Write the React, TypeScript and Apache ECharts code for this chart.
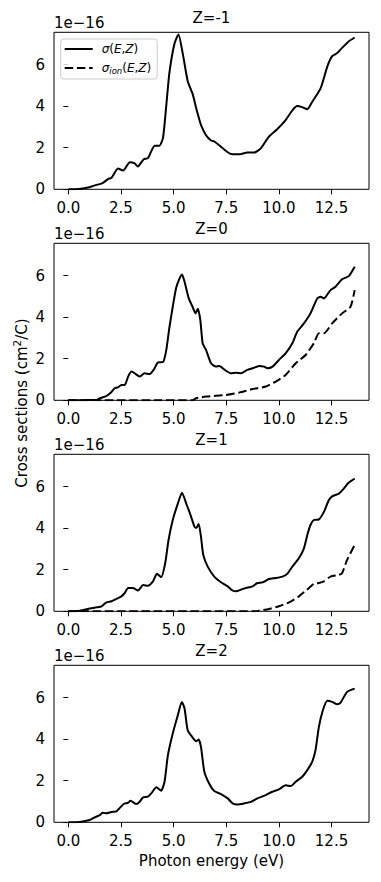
import React, { useEffect, useRef } from 'react';
import * as echarts from 'echarts';

const xTicks = [0, 2.5, 5, 7.5, 10, 12.5];
const yTicks = [0, 2, 4, 6];
const panelTitles = ['Z=-1', 'Z=0', 'Z=1', 'Z=2'];
const offsetText = '1e\u221216';

// Z=-1
const e1 = [0, 0.5, 1.0, 1.3, 1.6, 1.9, 2.05, 2.36, 2.6, 2.92, 3.15, 3.3, 3.58, 3.78, 4.1, 4.33, 4.5, 4.65, 4.8, 5.04, 5.23, 5.44, 5.67, 5.9, 6.1, 6.3, 6.54, 6.78, 6.93, 7.25, 7.57, 7.8, 8.1, 8.5, 8.83, 9.14, 9.5, 9.93, 10.3, 10.64, 10.87, 11.1, 11.35, 11.58, 11.98, 12.3, 12.53, 12.77, 13.0, 13.3, 13.6];
const s1 = [0, 0.02, 0.1, 0.2, 0.28, 0.5, 0.55, 1.0, 0.9, 1.3, 1.25, 1.1, 1.45, 1.5, 2.1, 2.1, 2.5, 4.0, 5.6, 7.0, 7.45, 6.5, 5.2, 4.6, 3.8, 3.1, 2.6, 2.35, 2.3, 2.05, 1.78, 1.68, 1.68, 1.77, 1.77, 1.97, 2.5, 2.9, 3.3, 3.8, 4.0, 3.95, 3.85, 4.2, 4.85, 5.9, 6.4, 6.55, 6.8, 7.1, 7.3];

// Z=0
const e2 = [0, 0.8, 1.34, 1.5, 1.8, 2.05, 2.2, 2.36, 2.52, 2.68, 2.84, 3.0, 3.15, 3.39, 3.62, 3.86, 4.05, 4.26, 4.5, 4.65, 4.8, 4.96, 5.12, 5.28, 5.4, 5.52, 5.72, 5.9, 6.04, 6.15, 6.27, 6.38, 6.54, 6.78, 7.01, 7.17, 7.49, 7.72, 7.96, 8.2, 8.5, 8.75, 9.06, 9.3, 9.46, 9.7, 10.0, 10.32, 10.64, 10.87, 11.19, 11.5, 11.82, 11.98, 12.14, 12.45, 12.69, 13.0, 13.32, 13.6];
const s2 = [0, 0.01, 0.02, 0.1, 0.2, 0.4, 0.58, 0.62, 0.74, 0.74, 1.14, 1.38, 1.3, 1.14, 1.3, 1.26, 1.46, 1.82, 1.84, 2.4, 3.5, 4.5, 5.4, 5.85, 6.05, 5.7, 4.9, 4.5, 4.18, 4.4, 3.85, 2.74, 2.42, 1.78, 1.62, 1.65, 1.42, 1.3, 1.33, 1.3, 1.46, 1.54, 1.65, 1.62, 1.54, 1.62, 1.94, 2.26, 2.74, 3.3, 3.7, 4.18, 4.9, 4.98, 4.9, 5.3, 5.46, 5.82, 5.97, 6.42];
const ei2 = [0, 5.9, 6.07, 6.54, 7.49, 8.12, 8.75, 9.38, 9.85, 10.32, 10.8, 11.27, 11.66, 11.9, 12.14, 12.53, 13.0, 13.4, 13.6];
const si2 = [0, 0, 0.1, 0.18, 0.26, 0.37, 0.54, 0.66, 0.9, 1.22, 1.78, 2.18, 2.74, 3.22, 3.22, 3.7, 4.18, 4.5, 5.3];

// Z=1
const e3 = [0, 0.55, 1.02, 1.34, 1.58, 1.81, 2.05, 2.29, 2.52, 2.68, 2.84, 3.07, 3.31, 3.55, 3.78, 4.02, 4.21, 4.41, 4.6, 4.76, 4.96, 5.2, 5.4, 5.6, 5.78, 5.99, 6.07, 6.19, 6.3, 6.41, 6.62, 6.93, 7.25, 7.57, 7.8, 7.96, 8.2, 8.43, 8.75, 8.98, 9.22, 9.53, 9.85, 10.17, 10.4, 10.64, 10.95, 11.19, 11.35, 11.5, 11.66, 11.9, 12.14, 12.37, 12.53, 12.85, 13.08, 13.32, 13.6];
const s3 = [0, 0.03, 0.13, 0.19, 0.24, 0.43, 0.48, 0.6, 0.72, 0.88, 1.12, 1.12, 1.0, 1.26, 1.23, 1.44, 1.8, 1.64, 2.31, 3.43, 4.39, 5.18, 5.7, 5.18, 4.7, 4.07, 4.0, 4.2, 3.59, 2.71, 2.15, 1.67, 1.4, 1.2, 1.0, 0.96, 1.04, 1.12, 1.2, 1.36, 1.39, 1.55, 1.6, 1.67, 1.8, 2.15, 2.55, 3.03, 3.67, 4.15, 4.39, 4.42, 4.78, 5.34, 5.53, 5.66, 5.9, 6.19, 6.38];
const ei3 = [0, 8.9, 9.06, 9.53, 10.0, 10.48, 10.95, 11.43, 11.66, 11.9, 12.14, 12.45, 12.85, 13.0, 13.24, 13.6];
const si3 = [0, 0, 0.03, 0.11, 0.24, 0.43, 0.72, 1.12, 1.32, 1.36, 1.44, 1.67, 1.75, 1.83, 2.47, 3.19];

// Z=2
const e4 = [0, 0.55, 1.02, 1.26, 1.5, 1.62, 1.81, 2.05, 2.29, 2.47, 2.63, 2.84, 2.95, 3.23, 3.39, 3.55, 3.78, 3.94, 4.18, 4.41, 4.57, 4.73, 4.96, 5.2, 5.39, 5.52, 5.67, 5.88, 6.07, 6.19, 6.3, 6.46, 6.7, 6.93, 7.25, 7.57, 7.8, 8.04, 8.36, 8.67, 8.98, 9.38, 9.69, 10.0, 10.32, 10.56, 10.8, 11.11, 11.35, 11.58, 11.74, 11.9, 12.09, 12.3, 12.53, 12.77, 12.92, 13.24, 13.6];
const s4 = [0, 0.02, 0.11, 0.24, 0.35, 0.46, 0.43, 0.5, 0.53, 0.72, 0.88, 0.94, 1.04, 0.88, 0.99, 1.2, 1.23, 1.39, 1.68, 1.52, 1.95, 3.23, 4.27, 5.15, 5.79, 5.47, 4.43, 4.11, 3.9, 3.98, 3.63, 2.43, 1.84, 1.5, 1.36, 1.15, 0.91, 0.86, 0.91, 0.98, 1.15, 1.31, 1.47, 1.58, 1.78, 1.74, 1.95, 2.19, 2.51, 2.91, 3.47, 4.59, 5.39, 5.84, 5.79, 5.68, 5.74, 6.27, 6.43];

const panels = [
  { e: e1, s: s1, ei: [] as number[], si: [] as number[] },
  { e: e2, s: s2, ei: ei2, si: si2 },
  { e: e3, s: s3, ei: ei3, si: si3 },
  { e: e4, s: s4, ei: [] as number[], si: [] as number[] },
];

const FONT = 'DejaVu Sans';
const GL = 54;
const GW = 315;
const GT0 = 32.3;
const GSTEP = 211;
const GH = 157;

export default function App() {
  const ref = useRef<HTMLDivElement>(null);
  useEffect(() => {
    if (!ref.current) return;
    const chart = echarts.init(ref.current, null, { renderer: 'svg' });
    const grids: any[] = [];
    const xAxes: any[] = [];
    const yAxes: any[] = [];
    const series: any[] = [];
    const graphics: any[] = [];
    panels.forEach((p, i) => {
      const top = GT0 + GSTEP * i;
      grids.push({ left: GL, top, width: GW, height: GH, show: true, borderColor: '#000', borderWidth: 1, backgroundColor: 'transparent' });
      xAxes.push({
        type: 'value', gridIndex: i, min: -0.68, max: 14.28,
        axisLine: { show: false },
        splitLine: { show: false },
        axisTick: { show: true, length: 5, inside: false, lineStyle: { color: '#000', width: 1 }, customValues: xTicks },
        axisLabel: { show: true, margin: 11, color: '#000', fontFamily: FONT, fontSize: 15, customValues: xTicks, formatter: (v: number) => v.toFixed(1) },
      });
      yAxes.push({
        type: 'value', gridIndex: i, min: 0, max: 7.55,
        axisLine: { show: false },
        splitLine: { show: false },
        axisTick: { show: true, length: 5, inside: false, lineStyle: { color: '#000', width: 1 }, customValues: yTicks },
        axisLabel: { show: true, margin: 9, color: '#000', fontFamily: FONT, fontSize: 15, customValues: yTicks, formatter: (v: number) => String(v) },
      });
      series.push({
        name: 's', type: 'line', xAxisIndex: i, yAxisIndex: i, symbol: 'none', smooth: 0.2,
        data: p.e.map((x, k) => [x, p.s[k]]),
        lineStyle: { color: '#000', width: 2 }, itemStyle: { color: '#000' }, z: 3,
      });
      series.push({
        name: 'si', type: 'line', xAxisIndex: i, yAxisIndex: i, symbol: 'none', smooth: 0.2,
        data: p.ei.map((x, k) => [x, p.si[k]]),
        lineStyle: { color: '#000', width: 2, type: [8.5, 3.7] }, itemStyle: { color: '#000' }, z: 3,
      });
      graphics.push({
        type: 'text', x: GL + GW / 2, y: top - 14, silent: true,
        style: { text: panelTitles[i], fill: '#000', font: `15px "${FONT}"`, textAlign: 'center', textVerticalAlign: 'middle' },
      });
      graphics.push({
        type: 'text', x: GL, y: top - 9, silent: true,
        style: { text: offsetText, fill: '#000', font: `15px "${FONT}"`, textAlign: 'left', textVerticalAlign: 'middle' },
      });
    });
    graphics.push({
      type: 'text', x: GL + GW / 2, y: 861, silent: true,
      style: { text: 'Photon energy (eV)', fill: '#000', font: `15px "${FONT}"`, textAlign: 'center', textVerticalAlign: 'middle' },
    });
    graphics.push({
      type: 'text', x: 20, y: 403, rotation: Math.PI / 2, silent: true,
      style: {
        text: '{a|Cross sections (cm}{s|2}{a|/C)}',
        textAlign: 'center', textVerticalAlign: 'middle',
        rich: {
          a: { fontFamily: FONT, fontSize: 15, fill: '#000', lineHeight: 18, verticalAlign: 'bottom' },
          s: { fontFamily: FONT, fontSize: 10.5, fill: '#000', lineHeight: 12, verticalAlign: 'top' },
        },
      },
    });

    chart.setOption({
      animation: false,
      backgroundColor: '#fff',
      grid: grids,
      xAxis: xAxes,
      yAxis: yAxes,
      series,
      graphic: graphics,
      legend: {
        data: ['s', 'si'],
        orient: 'vertical',
        left: 60.7,
        top: 39,
        itemWidth: 28,
        itemHeight: 14,
        itemGap: 7,
        padding: [4, 6, 4, 3],
        borderColor: '#cccccc',
        borderWidth: 1,
        borderRadius: 3,
        backgroundColor: 'rgba(255,255,255,0.8)',
        selectedMode: false,
        itemStyle: { opacity: 0 },
        lineStyle: { width: 2, opacity: 1 },
        textStyle: {
          fontFamily: FONT, fontSize: 12, color: '#000',
          rich: {
            f: { fontFamily: FONT, fontSize: 12, fontStyle: 'italic', color: '#000', padding: [0, 0, 0, 4], lineHeight: 14 },
            i: { fontFamily: FONT, fontSize: 12, fontStyle: 'italic', color: '#000', lineHeight: 14 },
            n: { fontFamily: FONT, fontSize: 12, color: '#000', lineHeight: 14 },
            sub: { fontFamily: FONT, fontSize: 8.5, fontStyle: 'italic', color: '#000', lineHeight: 10, verticalAlign: 'bottom', padding: [3, 0, 0, 0] },
          },
        },
        formatter: (name: string) =>
          name === 's'
            ? '{f|\u03c3}{n|(}{i|E}{n|,}{i|Z}{n|)}'
            : '{f|\u03c3}{sub|ion}{n|(}{i|E}{n|,}{i|Z}{n|)}',
      },
    });
    return () => chart.dispose();
  }, []);
  return <div ref={ref} style={{ position: 'fixed', left: 0, top: 0, width: 381, height: 882 }} />;
}
